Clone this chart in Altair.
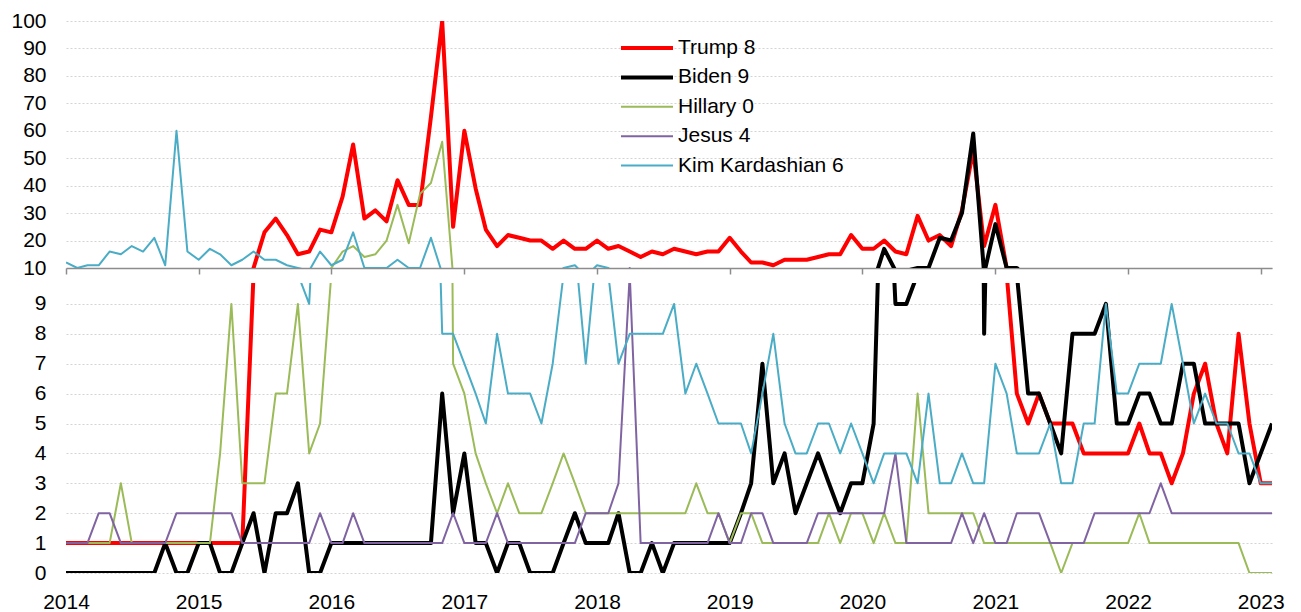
import altair as alt
import pandas as pd

# ---------------- data (monthly, Jan 2014 .. Feb 2023) ----------------
months = pd.date_range("2014-01-01", periods=110, freq="MS").strftime("%Y-%m-%d").tolist()

trump = [
    1, 1, 1, 1, 1, 1, 1, 1, 1, 1, 1, 1,            # 2014
    1, 1, 1, 1, 1, 10, 23, 28, 22, 15, 16, 24,     # 2015
    23, 36, 55, 28, 31, 27, 42, 33, 33, 65, 100, 25,  # 2016
    60, 39, 24, 18, 22, 21, 20, 20, 17, 20, 17, 17,   # 2017
    20, 17, 18, 16, 14, 16, 15, 17, 16, 15, 16, 16,   # 2018
    21, 16, 12, 12, 11, 13, 13, 13, 14, 15, 15, 22,   # 2019
    17, 17, 20, 16, 15, 29, 20, 22, 18, 31, 53, 18,   # 2020
    33, 10, 6, 5, 6, 5, 5, 5, 4, 4, 4, 4,             # 2021
    4, 5, 4, 4, 3, 4, 6, 7, 5, 4, 8, 5,               # 2022
    3, 3,                                             # 2023
]
biden = [
    0, 0, 0, 0, 0, 0, 0, 0, 0, 1, 0, 0,
    1, 1, 0, 0, 1, 2, 0, 2, 2, 3, 0, 0,
    1, 1, 1, 1, 1, 1, 1, 1, 1, 1, 6, 2,
    4, 1, 1, 0, 1, 1, 0, 0, 0, 1, 2, 1,
    1, 1, 2, 0, 0, 1, 0, 1, 1, 1, 1, 1,
    1, 2, 3, 7, 3, 4, 2, 3, 4, 3, 2, 3,
    3, 5, 17, 9, 9, 10, 10, 21, 20, 30, 59, 8,
    26, 10, 10, 6, 6, 5, 4, 8, 8, 8, 9, 5,
    5, 6, 6, 5, 5, 7, 7, 5, 5, 5, 5, 3,
    4, 5,
]
hillary = [
    1, 1, 1, 1, 1, 3, 1, 1, 1, 1, 1, 1,
    1, 1, 4, 9, 3, 3, 3, 6, 6, 9, 4, 5,
    10, 16, 18, 14, 15, 20, 33, 19, 37, 41, 56, 7,
    6, 4, 3, 2, 3, 2, 2, 2, 3, 4, 3, 2,
    2, 2, 2, 2, 2, 2, 2, 2, 2, 3, 2, 2,
    1, 2, 2, 1, 1, 1, 1, 1, 1, 2, 1, 2,
    2, 1, 2, 1, 1, 6, 2, 2, 2, 2, 2, 1,
    1, 1, 1, 1, 1, 1, 0, 1, 1, 1, 1, 1,
    1, 2, 1, 1, 1, 1, 1, 1, 1, 1, 1, 0,
    0, 0,
]
jesus = [
    1, 1, 1, 2, 2, 1, 1, 1, 1, 1, 2, 2,
    2, 2, 2, 2, 1, 1, 1, 1, 1, 1, 1, 2,
    1, 1, 2, 1, 1, 1, 1, 1, 1, 1, 1, 2,
    1, 1, 1, 2, 1, 1, 1, 1, 1, 1, 1, 2,
    2, 2, 3, 10, 1, 1, 1, 1, 1, 1, 1, 2,
    1, 1, 2, 2, 1, 1, 1, 1, 2, 2, 2, 2,
    2, 2, 2, 4, 1, 1, 1, 1, 1, 2, 1, 2,
    1, 1, 2, 2, 2, 1, 1, 1, 1, 2, 2, 2,
    2, 2, 2, 3, 2, 2, 2, 2, 2, 2, 2, 2,
    2, 2,
]
kardashian = [
    12, 10, 11, 11, 16, 15, 18, 16, 21, 11, 60, 16,
    13, 17, 15, 11, 13, 16, 13, 13, 11, 10, 9, 16,
    11, 13, 23, 10, 10, 10, 13, 10, 10, 21, 8, 8,
    7, 6, 5, 8, 6, 6, 6, 5, 7, 10, 11, 7,
    11, 10, 7, 8, 8, 8, 8, 9, 6, 7, 6, 5,
    5, 5, 4, 6, 8, 5, 4, 4, 5, 5, 4, 5,
    4, 3, 4, 4, 4, 3, 6, 3, 3, 4, 3, 3,
    7, 6, 4, 4, 4, 5, 3, 3, 5, 5, 9, 6,
    6, 7, 7, 7, 9, 7, 5, 6, 5, 5, 4, 4,
    3, 3,
]

names = ["Trump 8", "Biden 9", "Hillary 0", "Jesus 4", "Kim Kardashian 6"]
colors = ["#FF0000", "#000000", "#9BBB59", "#8064A2", "#4BACC6"]
widths = [4, 4, 2, 2, 2]

top_ticks = [10, 20, 30, 40, 50, 60, 70, 80, 90, 100]
bottom_ticks = [0, 1, 2, 3, 4, 5, 6, 7, 8, 9]

frames = []
for name, vals in zip(names, [trump, biden, hillary, jesus, kardashian]):
    frames.append(pd.DataFrame({"date": months, "value": vals, "series": name}))
df = pd.concat(frames, ignore_index=True)

# ---------------- styling ----------------
FONT = "Liberation Sans"
GRID = "#D4D4D4"
AXIS_GRAY = "#8C8C8C"
W = 1206


def utc(y, m=1):
    return alt.DateTime(year=y, month=m, date=1, utc=True)


year_ticks = [utc(y) for y in range(2014, 2024)]
x_scale = alt.Scale(type="utc", domain=[utc(2014), utc(2023, 2)])


def series_enc(legend):
    return dict(
        color=alt.Color("series:N", scale=alt.Scale(domain=names, range=colors), legend=legend),
        strokeWidth=alt.StrokeWidth(
            "series:N",
            scale=alt.Scale(type="ordinal", domain=names, range=widths),
            legend=legend,
        ),
    )


y_axis_common = dict(
    grid=True, gridColor=GRID, gridDash=[2, 2], gridWidth=1.2,
    domain=False, ticks=False, tickSize=0, labelPadding=20,
    labelFont=FONT, labelFontSize=21, labelColor="#000000", title=None,
)

legend = alt.Legend(
    title=None, orient="none", legendX=553, legendY=16,
    symbolType="stroke", symbolSize=2704, clipHeight=22,
    labelFont=FONT, labelFontSize=21, labelColor="#000000",
    rowPadding=7.4, padding=0, labelOffset=3, labelLimit=500,
)

top = alt.Chart(df).mark_line(clip=True, strokeJoin="round").encode(
    x=alt.X("date:T", scale=x_scale, axis=alt.Axis(
        values=year_ticks, labels=False, ticks=True, tickSize=6, tickWidth=1.5,
        tickColor=AXIS_GRAY, domain=True, domainColor=AXIS_GRAY, domainWidth=1.5,
        grid=False, title=None)),
    y=alt.Y("value:Q", scale=alt.Scale(domain=[10, 100], nice=False, zero=False),
            axis=alt.Axis(values=top_ticks, **y_axis_common)),
    **series_enc(legend),
).properties(width=W, height=247)

bottom = alt.Chart(df).mark_line(clip=True, strokeJoin="round").encode(
    x=alt.X("date:T", scale=x_scale, axis=alt.Axis(
        values=year_ticks, format="%Y", labels=True, ticks=False, tickSize=0,
        domain=False, grid=False, title=None, labelFlush=False, labelOverlap=False,
        labelPadding=18, labelFont=FONT, labelFontSize=21, labelColor="#000000")),
    y=alt.Y("value:Q", scale=alt.Scale(domain=[0, 9.7], nice=False, zero=False),
            axis=alt.Axis(values=bottom_ticks, **y_axis_common)),
    **series_enc(None),
).properties(width=W, height=290)

chart = alt.vconcat(top, bottom, spacing=15, bounds="flush").resolve_legend(
    color="independent", strokeWidth="independent"
).configure_view(stroke=None).properties(
    padding={"left": 2, "top": 2, "right": 5, "bottom": 0},
    background="white",
)

chart.save("out.html", embed_options={"renderer": "svg", "actions": False})
